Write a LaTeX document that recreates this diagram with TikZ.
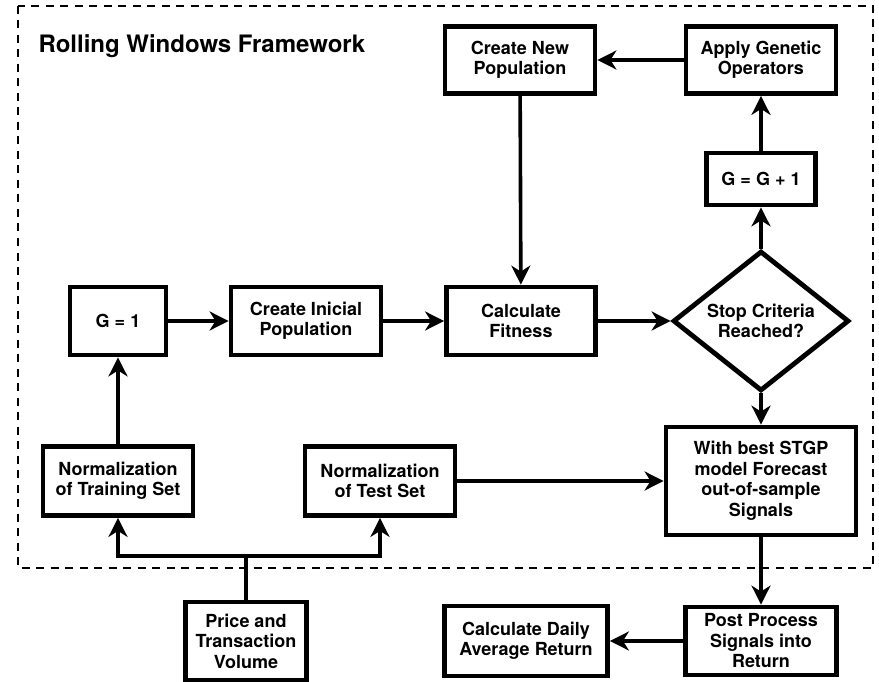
\documentclass[tikz,border=0pt]{standalone}
\usepackage{fontspec}
\setmainfont{TeX Gyre Heros}
\usepackage{tikz}
\usetikzlibrary{shapes,arrows,positioning,calc,arrows.meta}

\tikzset{
    block/.style={draw, line width=4.8pt, align=center, inner sep=2pt,
        font=\bfseries\fontsize{18}{20.5}\selectfont},
    decision/.style={draw, diamond, line width=4.8pt, align=center, inner sep=0pt,
        aspect=1.26, minimum width=176pt, minimum height=140pt,
        font=\bfseries\fontsize{18}{20.5}\selectfont},
    flow/.style={line width=3.6pt, -{Stealth[length=19pt,width=19pt,inset=6pt]}},
    frame/.style={line width=2.9pt, dash pattern=on 8pt off 6.5pt}
}

\begin{document}
\begin{tikzpicture}[x=1pt,y=-1pt]
    \useasboundingbox (0,0) rectangle (879,682);
    \draw[frame] (18,6) rectangle (873,568);
    \node[anchor=base west, font=\bfseries\fontsize{24}{27}\selectfont] (title) at (35,53) {Rolling Windows Framework};

    % GP loop
    \node[block, minimum width=150pt, minimum height=67pt] (newpop) at (520,60) {Create New\\Population};
    \node[block, minimum width=150pt, minimum height=67pt] (genetic) at (761,60) {Apply Genetic\\Operators};
    \node[block, minimum width=109pt, minimum height=52pt] (gplus) at (761,179) {G = G + 1};
    \node[block, minimum width=96pt, minimum height=68pt] (gone) at (118,321) {G = 1};
    \node[block, minimum width=150pt, minimum height=68pt] (initpop) at (306,321) {Create Inicial\\Population};
    \node[block, minimum width=149pt, minimum height=68pt] (fitness) at (521,321) {Calculate\\Fitness};
    \node[decision] (stop) at (761,321) {Stop Criteria\\Reached?};
    \node[block, minimum width=190pt, minimum height=108pt] (forecast) at (761,481) {With best STGP\\model Forecast\\out-of-sample\\Signals};

    % data preparation
    \node[block, minimum width=150pt, minimum height=69pt] (normtrain) at (118,481) {Normalization\\of Training Set};
    \node[block, minimum width=150pt, minimum height=69pt] (normtest) at (380,481) {Normalization\\of Test Set};
    \node[block, minimum width=121pt, minimum height=78pt] (price) at (246,641) {Price and\\Transaction\\Volume};

    % results
    \node[block, minimum width=151pt, minimum height=68pt] (post) at (761,641) {Post Process\\Signals into\\Return};
    \node[block, minimum width=163pt, minimum height=70pt] (daily) at (526,641) {Calculate Daily\\Average Return};

    \coordinate (split) at (246,556);

    \draw[flow] (genetic) -- (newpop);
    \draw[flow] (newpop) -- (fitness);
    \draw[flow] (gone) -- (initpop);
    \draw[flow] (initpop) -- (fitness);
    \draw[flow] (fitness) -- (stop);
    \draw[flow] (stop) -- (gplus);
    \draw[flow] (gplus) -- (genetic);
    \draw[flow] (stop) -- (forecast);
    \draw[flow] (normtest) -- (forecast);
    \draw[flow] (normtrain) -- (gone);
    \draw[flow] (price.north) -- (split) -| (normtrain.south);
    \draw[flow] (split) -| (normtest.south);
    \draw[flow] (forecast) -- (post);
    \draw[flow] (post) -- (daily);
\end{tikzpicture}
\end{document}
